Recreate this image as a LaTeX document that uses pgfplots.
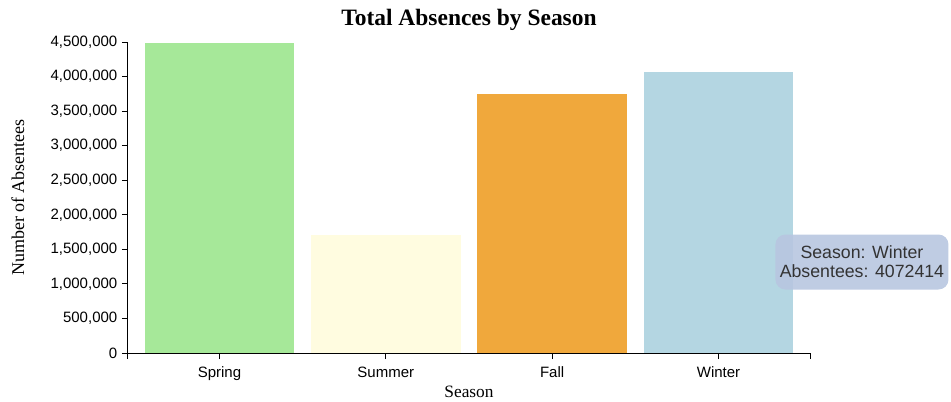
\documentclass[border=0pt]{standalone}
\usepackage{pgfplots}
\pgfplotsset{compat=1.18}
\usepackage{fontspec}
\setmainfont{Liberation Serif}
\newfontfamily\arial{Liberation Sans}

\definecolor{springc}{RGB}{166,232,153}
\definecolor{summerc}{RGB}{255,252,224}
\definecolor{fallc}{RGB}{240,168,60}
\definecolor{winterc}{RGB}{180,214,226}
\definecolor{tipc}{RGB}{184,198,224}

\begin{document}
\begin{tikzpicture}
\useasboundingbox (-96pt,-36pt) rectangle (617.25pt,264.75pt);
\begin{axis}[
    at={(0,0)}, anchor=south west,
    width=511.5pt, height=233.25pt, scale only axis,
    xmin=-0.55, xmax=3.55, ymin=0, ymax=4500000,
    axis x line*=bottom, axis y line*=left,
    axis line style={line width=0.75pt},
    tick align=outside,
    major tick length=4.5pt,
    tick style={black, line width=0.75pt},
    xtick={0,1,2,3},
    xticklabels={Spring,Summer,Fall,Winter},
    xticklabel style={yshift=-2.5pt},
    ytick={0,500000,1000000,1500000,2000000,2500000,3000000,3500000,4000000,4500000},
    scaled y ticks=false,
    yticklabel style={/pgf/number format/fixed, /pgf/number format/1000 sep={,}},
    tick label style={font=\arial\fontsize{11.25}{13}\selectfont, /pgf/number format/assume math mode=true},
    every axis title shift=0pt,
    title={Total Absences by Season},
    title style={font=\bfseries\fontsize{17.6}{20}\selectfont, at={(axis description cs:0.5,1.0707)}, anchor=center},
    xlabel={Season},
    xlabel style={font=\fontsize{13}{15}\selectfont, at={(axis description cs:0.5,-0.1254)}, anchor=center},
    ylabel={Number of Absentees},
    ylabel style={font=\fontsize{13.5}{15}\selectfont, at={(axis description cs:-0.1613,0.5)}, anchor=center},
    clip=false,
]
\addplot[ybar, bar shift=0pt, bar width=0.9, fill=springc, draw=none] coordinates {(0,4480000)};
\addplot[ybar, bar shift=0pt, bar width=0.9, fill=summerc, draw=none] coordinates {(1,1708000)};
\addplot[ybar, bar shift=0pt, bar width=0.9, fill=fallc, draw=none] coordinates {(2,3748000)};
\addplot[ybar, bar shift=0pt, bar width=0.9, fill=winterc, draw=none] coordinates {(3,4072414)};
% outer ends of the x axis and the category ticks
\draw[line width=0.75pt] (axis description cs:0,0) -- ([yshift=-4.5pt]axis description cs:0,0);
\draw[line width=0.75pt] (axis description cs:1,0) -- ([yshift=-4.5pt]axis description cs:1,0);
\draw[line width=0.75pt] (axis cs:0,0) -- ([yshift=-4.5pt]axis cs:0,0);
\draw[line width=0.75pt] (axis cs:1,0) -- ([yshift=-4.5pt]axis cs:1,0);
\draw[line width=0.75pt] (axis cs:2,0) -- ([yshift=-4.5pt]axis cs:2,0);
\draw[line width=0.75pt] (axis cs:3,0) -- ([yshift=-4.5pt]axis cs:3,0);
\node[fill=tipc, fill opacity=0.9, text opacity=1, rounded corners=7.5pt,
      minimum width=129.75pt, minimum height=41.25pt, inner sep=2pt,
      align=center, text=black!80, font=\arial\fontsize{13.3}{14.25}\selectfont]
  at (axis description cs:1.0762,0.2926) {Season: Winter\\Absentees: 4072414};
\end{axis}
\end{tikzpicture}
\end{document}
